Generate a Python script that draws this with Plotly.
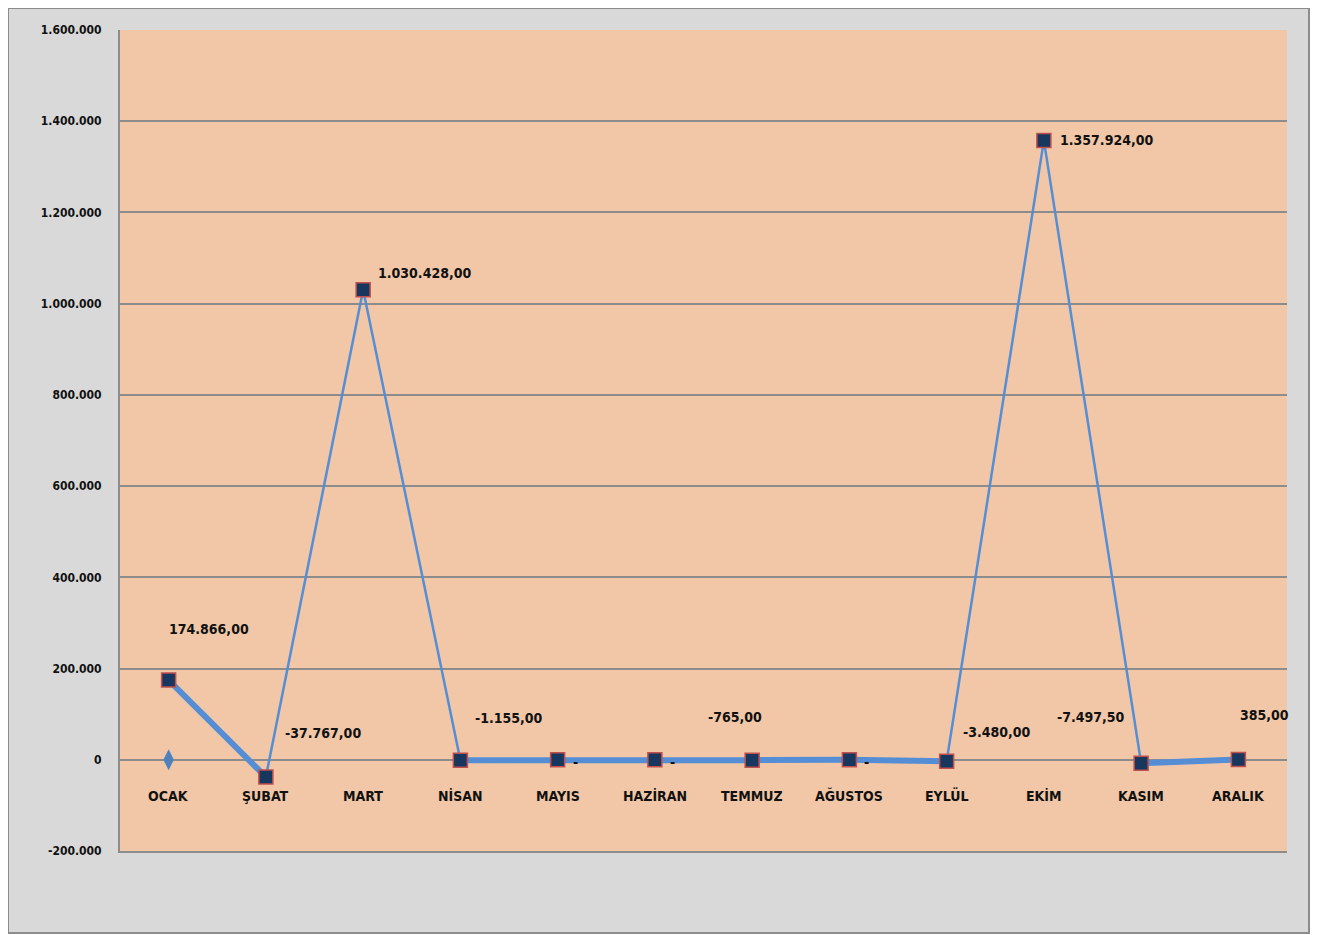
import plotly.graph_objects as go

months = ["OCAK", "ŞUBAT", "MART", "NİSAN", "MAYIS", "HAZİRAN",
          "TEMMUZ", "AĞUSTOS", "EYLÜL", "EKİM", "KASIM", "ARALIK"]
values = [174866, -37767, 1030428, -1155, 0, 0, -765, 0, -3480, 1357924, -7497.5, 385]
# thick overlay series (gaps at MART and EKİM)
thick_values = [174866, -37767, None, -1155, 0, 0, -765, 0, -3480, None, -7497.5, 385]
# second series: only visible point at OCAK
diamond_values = [0, None, None, None, None, None, None, None, None, None, None, None]

y_ticks = [-200000, 0, 200000, 400000, 600000, 800000, 1000000, 1200000, 1400000, 1600000]

# label placement in pixels (style)
label_anchor = ["center", "left", "left", "left", "center", "center",
                "center", "center", "left", "left", "center", "center"]
label_dx = [40, 17, 13, 13, 18, 18, -17, 17, 14, 14, -50, 26]
label_dy = [51, 44, 17, 42, -2, -2, 43, -2, 29, 0, 46, 45]


def fmt_tr(v):
    if v == 0:
        return "-"
    s = f"{abs(v):,.2f}"
    s = s.replace(",", "X").replace(".", ",").replace("X", ".")
    return ("-" if v < 0 else "") + s


def fmt_tick(v):
    return f"{v:,d}".replace(",", ".")


FONT = "DejaVu Sans Condensed, DejaVu Sans, sans-serif"

fig = go.Figure()

fig.add_trace(go.Scatter(
    x=months, y=thick_values, mode="lines",
    line=dict(color="#558ED5", width=6), connectgaps=False,
    hoverinfo="skip", showlegend=False))

fig.add_trace(go.Scatter(
    x=months, y=values, mode="lines+markers",
    line=dict(color="#558ED5", width=2.5),
    marker=dict(symbol="square", size=14, color="#17375E",
                line=dict(color="#C0504D", width=1.5)),
    showlegend=False))

fig.add_trace(go.Scatter(
    x=months, y=diamond_values, mode="markers",
    marker=dict(symbol="diamond-tall", size=15, color="#4F81BD"),
    showlegend=False))

annotations = []
for m, v, a, dx, dy in zip(months, values, label_anchor, label_dx, label_dy):
    annotations.append(dict(
        x=m, y=v, xref="x", yref="y", text="<b>" + fmt_tr(v) + "</b>", showarrow=False,
        xanchor=a, xshift=dx, yshift=dy, font=dict(family=FONT, size=14, color="#111")))
for m in months:
    annotations.append(dict(
        x=m, y=0, xref="x", yref="y", text="<b>" + m + "</b>", showarrow=False,
        yshift=-36, font=dict(family=FONT, size=14, color="#111")))

# page is offset by the 8px body margin
W, H = 1315, 927
L, R, T, B = 112, 36, 22, 84
pw, ph = W - L - R, H - T - B


def px_x(p):
    return (p - L) / pw


def px_y(p):
    return (H - B - p) / ph


fig.update_layout(
    width=W, height=H,
    margin=dict(l=L, r=R, t=T, b=B, pad=0),
    paper_bgcolor="white",
    plot_bgcolor="#F1C7A7",
    annotations=annotations,
    shapes=[
        dict(type="rect", xref="paper", yref="paper",
             x0=px_x(0), x1=px_x(1301), y0=px_y(925), y1=px_y(0),
             fillcolor="#D9D9D9", line=dict(color="#8C8C8C", width=2),
             layer="below"),
        dict(type="rect", xref="x domain", yref="y domain",
             x0=0, x1=1, y0=0, y1=1,
             fillcolor="#F1C7A7", line=dict(width=0), layer="below"),
    ],
    xaxis=dict(range=[-0.5, 11.5], showticklabels=False, showgrid=False,
               zeroline=False, showline=True, linecolor="#8C8C8C", linewidth=2,
               ticks="", fixedrange=True),
    yaxis=dict(range=[-200000, 1600000], tickvals=y_ticks,
               ticktext=["<b>" + fmt_tick(t) + "</b>" for t in y_ticks],
               showgrid=True, gridcolor="#8C8C8C", gridwidth=2,
               zeroline=True, zerolinecolor="#8C8C8C", zerolinewidth=2,
               showline=True, linecolor="#8C8C8C", linewidth=2,
               ticks="", ticklabelstandoff=14,
               tickfont=dict(family=FONT, size=12, color="#111")),
)

fig.write_html("out.html")
